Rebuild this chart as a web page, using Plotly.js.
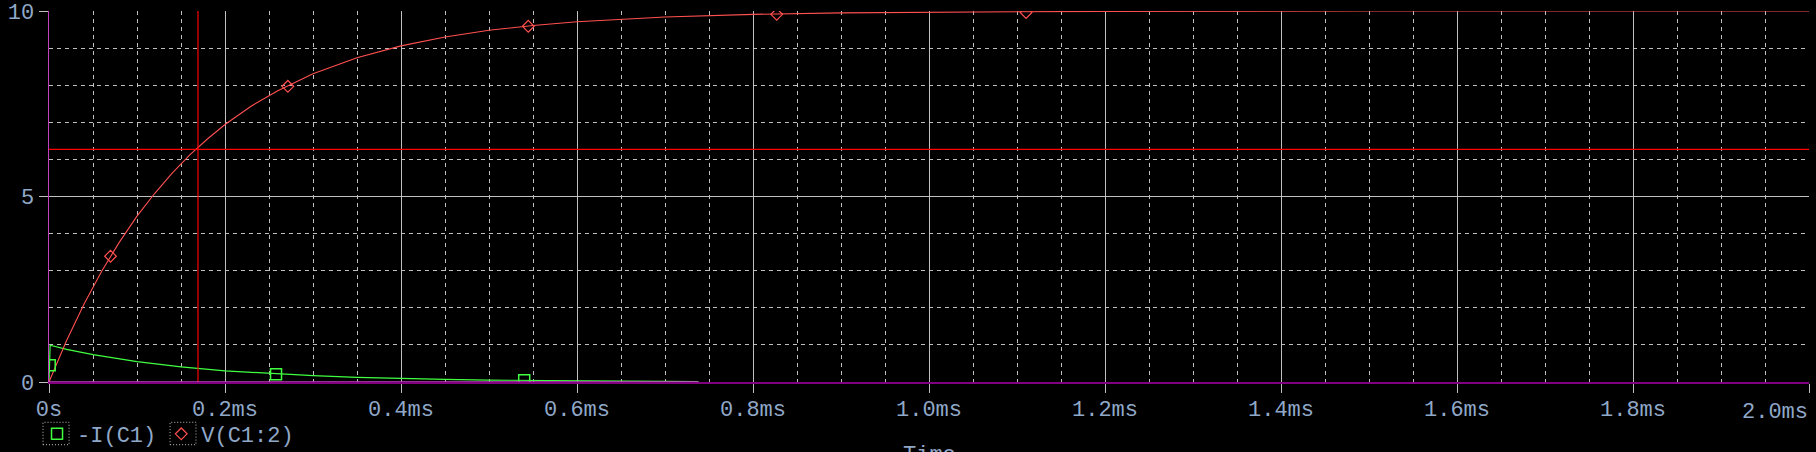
<!DOCTYPE html>
<html><head><meta charset="utf-8">
<script src="https://cdn.plot.ly/plotly-3.0.1.min.js"></script>
<style>html,body{margin:0;padding:0;background:#000;}#chart{width:1816px;height:452px;}</style>
</head><body><div id="chart"></div>
<script>
// V(C1:2) trace, time in ms
const vTime = [0, 0.01, 0.02, 0.04, 0.06, 0.08, 0.10, 0.12, 0.14, 0.16, 0.18, 0.20, 0.23, 0.26, 0.30, 0.35, 0.40, 0.45, 0.50, 0.55, 0.60, 0.70, 0.80, 0.90, 1.00, 1.10, 1.20, 1.30, 1.50, 2.00];
const vValue = [0, 0.57, 1.12, 2.11, 2.99, 3.77, 4.47, 5.08, 5.63, 6.12, 6.55, 6.94, 7.44, 7.85, 8.31, 8.74, 9.06, 9.30, 9.48, 9.61, 9.71, 9.84, 9.91, 9.95, 9.97, 9.98, 9.99, 10.0, 10.0, 10.0];
// -I(C1) trace
const iTime = [0, 0.0013, 0.02, 0.05, 0.10, 0.15, 0.20, 0.25, 0.30, 0.35, 0.40, 0.45, 0.50, 0.55, 0.60, 0.65, 0.70, 0.738];
const iValue = [0, 0.99, 0.88, 0.74, 0.55, 0.41, 0.30, 0.23, 0.17, 0.125, 0.093, 0.069, 0.051, 0.038, 0.029, 0.021, 0.016, 0.013];
// marker points
const vMarkTime = [0.0699, 0.2714, 0.5446, 0.8269, 1.1103];
const vMarkValue = [3.39, 7.97, 9.59, 9.91, 9.96];
const iMarkTime = [0.0008, 0.258, 0.540];
const iMarkValue = [0.45, 0.21, 0.046];
// axes
const xTickVals = [0, 0.2, 0.4, 0.6, 0.8, 1.0, 1.2, 1.4, 1.6, 1.8, 2.0];
const xTickText = ["0s", "0.2ms", "0.4ms", "0.6ms", "0.8ms", "1.0ms", "1.2ms", "1.4ms", "1.6ms", "1.8ms", "2.0ms"];
const yTickVals = [0, 5, 10];
const yTickText = ["0", "5", "10"];
const xTitle = "Time";
// cursor
const cursorTime = 0.1693;
const cursorValue = 6.27;
const axisHiliteTime = [0, 0.738];

const labelColor = '#90a8c8';
const gridColor = '#c0c0c0';
const mono = '"Liberation Mono", "Courier New", monospace';

const lastIdx = xTickText.length - 1;
const shownTickText = xTickText.map((t, i) => i === lastIdx ? '' : t);

const traces = [
  {x: iTime, y: iValue, mode: 'lines', line: {color: '#40ff40', width: 1.2}, showlegend: false, hoverinfo: 'skip'},
  {x: vTime, y: vValue, mode: 'lines', line: {color: '#ff5050', width: 1.1}, showlegend: false, hoverinfo: 'skip'},
  {x: iMarkTime, y: iMarkValue, mode: 'markers', name: '-I(C1)',
   marker: {symbol: 'square-open', size: 11, color: '#40ff40', line: {width: 1.5}}},
  {x: vMarkTime, y: vMarkValue, mode: 'markers', name: 'V(C1:2)',
   marker: {symbol: 'diamond-open', size: 9, color: '#ff5050', line: {width: 1.2}}}
];

const dotted = {color: '#c0c0c0', width: 1, dash: '1px,2px'};

const layout = {
  width: 1816, height: 452,
  paper_bgcolor: '#000', plot_bgcolor: '#000',
  margin: {l: 49, r: 7, t: 11, b: 70, autoexpand: false},
  font: {family: mono, size: 22, color: labelColor},
  xaxis: {
    range: [0, 2.0], tickvals: xTickVals, ticktext: shownTickText,
    showgrid: true, gridcolor: gridColor, gridwidth: 1,
    zeroline: false, showline: true, linecolor: '#800080', linewidth: 1.5,
    ticks: 'outside', ticklen: 9, tickcolor: gridColor, tickwidth: 1,
    ticklabelstandoff: -3,
    tickfont: {family: mono, size: 22, color: labelColor},
    minor: {dtick: 0.05, showgrid: true, gridcolor: gridColor, griddash: '4px,4px', gridwidth: 1, ticks: ''},
    automargin: false, fixedrange: true
  },
  yaxis: {
    range: [0, 10], tickvals: yTickVals, ticktext: yTickText,
    showgrid: true, gridcolor: gridColor, gridwidth: 1,
    zeroline: false, showline: true, linecolor: '#c040c0', linewidth: 1.5,
    ticks: 'outside', ticklen: 9, tickcolor: gridColor, tickwidth: 1,
    tickfont: {family: mono, size: 22, color: labelColor},
    minor: {dtick: 1, showgrid: true, gridcolor: gridColor, griddash: '4px,4px', gridwidth: 1, ticks: ''},
    automargin: false, fixedrange: true
  },
  showlegend: true,
  legend: {
    orientation: 'h', x: -0.0068, xanchor: 'left', y: -0.0836, yanchor: 'top',
    font: {family: mono, size: 22, color: labelColor},
    bgcolor: 'rgba(0,0,0,0)', itemclick: false
  },
  shapes: [
    {type: 'line', xref: 'x', yref: 'paper', x0: cursorTime, x1: cursorTime, y0: 0, y1: 1, line: {color: '#ff0000', width: 1.2}},
    {type: 'line', xref: 'paper', yref: 'y', x0: 0, x1: 1, y0: cursorValue, y1: cursorValue, line: {color: '#ff0000', width: 1.2}},
    {type: 'line', xref: 'x', yref: 'y', x0: axisHiliteTime[0], x1: axisHiliteTime[1], y0: 0, y1: 0, line: {color: '#c040c0', width: 1.5}},
    {type: 'rect', xref: 'paper', yref: 'paper', x0: -0.0034, x1: 0.0114, y0: -0.169, y1: -0.1086, line: dotted},
    {type: 'rect', xref: 'paper', yref: 'paper', x0: 0.0688, x1: 0.0835, y0: -0.169, y1: -0.1086, line: dotted}
  ],
  annotations: [
    {text: xTickText[lastIdx], xref: 'x', yref: 'paper', x: xTickVals[lastIdx], y: -0.081, xanchor: 'right', yanchor: 'middle',
     showarrow: false, borderpad: 0, font: {family: mono, size: 22, color: labelColor}},
    {text: xTitle, xref: 'paper', yref: 'paper', x: 0.5, y: -0.160, xanchor: 'center', yanchor: 'top', showarrow: false,
     font: {family: mono, size: 22, color: labelColor}}
  ]
};

Plotly.newPlot('chart', traces, layout, {displayModeBar: false, staticPlot: true});
</script>
</body></html>
